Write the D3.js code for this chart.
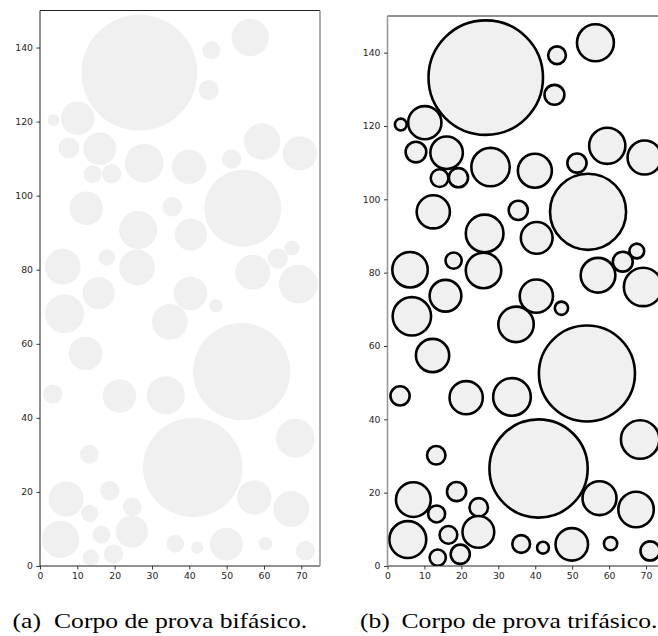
<!DOCTYPE html>
<html>
<head>
<meta charset="utf-8">
<script src="https://cdn.jsdelivr.net/npm/d3@7"></script>
<style>
  body { margin: 0; background: #fff; }
  svg { display: block; }
</style>
</head>
<body>
<svg id="fig" width="658" height="636"></svg>
<script>
// Inclusion centres (x, y) and radii, in specimen units
const circleX = [26.6, 45.9, 56.3, 45.2, 3.6, 10.1, 7.7, 16.0, 14.1, 19.2, 27.9, 39.9, 51.3, 59.5, 69.6,
                 54.3, 12.4, 35.4, 26.3, 40.4, 6.1, 17.9, 26.0, 57.0, 63.7, 67.5, 69.2,
                 15.7, 40.3, 47.1, 6.6, 34.8, 54.0, 12.2, 3.4, 21.3, 33.7, 40.9, 68.4, 13.2,
                 7.0, 18.7, 24.7, 13.3, 5.5, 16.5, 24.6, 13.6, 19.7, 57.4, 67.3, 36.2, 42.1, 49.9, 60.4, 71.1];
const circleY = [133.2, 139.3, 142.7, 128.5, 120.4, 120.9, 112.9, 112.7, 105.8, 105.9, 108.8, 107.8, 109.9, 114.6, 111.4,
                 96.6, 96.6, 97.0, 90.7, 89.5, 80.8, 83.3, 80.6, 79.3, 83.0, 85.9, 76.1,
                 73.7, 73.6, 70.3, 68.1, 65.9, 52.5, 57.4, 46.4, 45.9, 46.1, 26.6, 34.5, 30.2,
                 18.1, 20.3, 16.0, 14.2, 7.2, 8.5, 9.3, 2.3, 3.2, 18.5, 15.4, 6.0, 5.0, 5.9, 6.1, 4.1];
const circleR = [15.5, 2.4, 5.0, 2.7, 1.6, 4.5, 2.8, 4.4, 2.4, 2.6, 5.2, 4.6, 2.6, 4.9, 4.6,
                 10.3, 4.5, 2.6, 5.1, 4.3, 4.8, 2.2, 4.8, 4.7, 2.7, 2.0, 5.2,
                 4.3, 4.5, 1.8, 5.2, 4.8, 13.0, 4.5, 2.6, 4.5, 5.1, 13.3, 5.2, 2.5,
                 4.7, 2.6, 2.5, 2.3, 5.0, 2.4, 4.3, 2.2, 2.6, 4.6, 4.8, 2.4, 1.6, 4.4, 1.8, 2.6];

const xDomain = [0, 75];
const yDomain = [0, 150];
const xTicks = [0, 10, 20, 30, 40, 50, 60, 70];
const yTicks = [0, 20, 40, 60, 80, 100, 120, 140];
const captionTags = ["(a)", "(b)"];
const captionTexts = ["Corpo de prova bifásico.", "Corpo de prova trifásico."];

const circles = circleX.map((x, i) => ({ x, y: circleY[i], r: circleR[i] }));

const panels = [
  { left: 40,    top: 10.5, width: 280, height: 555.5, outlined: false, tagX: 12.5, textX: 54 },
  { left: 387.5, top: 16,   width: 277, height: 550,   outlined: true,  tagX: 360,  textX: 401.5 }
];

const svg = d3.select("#fig");
const tickFont = "DejaVu Sans, sans-serif";
const serif = "Liberation Serif, Times New Roman, serif";
const captionBaseline = 627.5;
const captionStretch = 1.22;

panels.forEach((p, k) => {
  const x = d3.scaleLinear().domain(xDomain).range([0, p.width]);
  const y = d3.scaleLinear().domain(yDomain).range([p.height, 0]);

  const g = svg.append("g").attr("transform", `translate(${p.left},${p.top})`);

  const clipId = "clip" + k;
  g.append("clipPath").attr("id", clipId)
    .append("rect").attr("width", p.width).attr("height", p.height);

  g.append("g").attr("clip-path", `url(#${clipId})`)
    .selectAll("circle").data(circles).join("circle")
    .attr("cx", d => x(d.x))
    .attr("cy", d => y(d.y))
    .attr("r", d => x(d.r) - x(0))
    .attr("fill", "#f0f0f0")
    .attr("stroke", p.outlined ? "#000" : "none")
    .attr("stroke-width", p.outlined ? 2.6 : 0);

  // spines
  const dark = "#222", grey = "#999";
  g.append("line").attr("x1", 0).attr("x2", p.width).attr("y1", 0).attr("y2", 0)
    .attr("stroke", dark).attr("stroke-width", 1);
  g.append("line").attr("x1", 0).attr("x2", p.width).attr("y1", p.height).attr("y2", p.height)
    .attr("stroke", dark).attr("stroke-width", 1);
  g.append("line").attr("x1", 0).attr("x2", 0).attr("y1", 0).attr("y2", p.height)
    .attr("stroke", p.outlined ? grey : dark).attr("stroke-width", p.outlined ? 1.6 : 1);
  g.append("line").attr("x1", p.width).attr("x2", p.width).attr("y1", 0).attr("y2", p.height)
    .attr("stroke", p.outlined ? dark : grey).attr("stroke-width", p.outlined ? 1 : 1.6);

  const xAxis = g.append("g").attr("transform", `translate(0,${p.height})`)
    .call(d3.axisBottom(x).tickValues(xTicks).tickFormat(d3.format("d")).tickSize(3.5).tickPadding(3));
  const yAxis = g.append("g")
    .call(d3.axisLeft(y).tickValues(yTicks).tickFormat(d3.format("d")).tickSize(3.5).tickPadding(3.5));
  [xAxis, yAxis].forEach(a => {
    a.select(".domain").remove();
    a.selectAll(".tick line").attr("stroke", dark).attr("stroke-width", 0.9);
    a.selectAll(".tick text").attr("fill", "#262626")
      .style("font-family", tickFont).style("font-size", "9.3px");
  });

  // caption: sub-figure tag, then its description
  [[p.tagX, captionTags[k]], [p.textX, captionTexts[k]]].forEach(([tx, str]) => {
    svg.append("text")
      .attr("transform", `translate(${tx},${captionBaseline}) scale(${captionStretch},1)`)
      .style("font-family", serif)
      .style("font-size", "21px")
      .attr("fill", "#000")
      .text(str);
  });
});
</script>
</body>
</html>
